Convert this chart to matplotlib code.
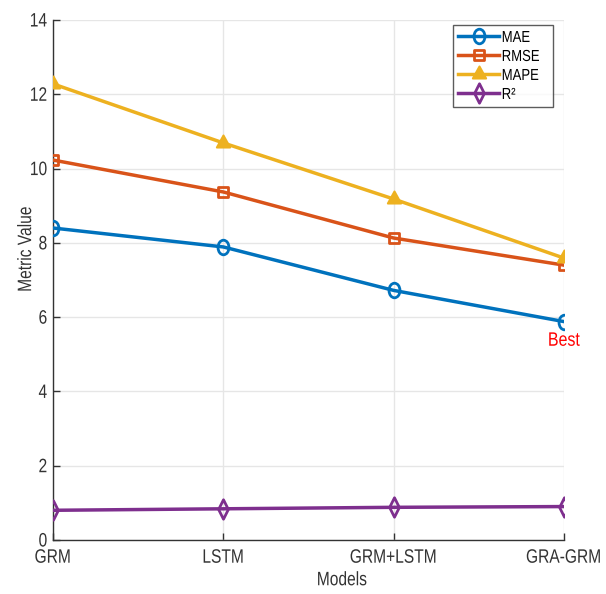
import matplotlib
matplotlib.use("Agg")
import matplotlib.pyplot as plt
from matplotlib.patheffects import AbstractPathEffect
from matplotlib.transforms import Affine2D
from matplotlib.path import Path
import numpy as np

models = ["GRM", "LSTM", "GRM+LSTM", "GRA-GRM"]
mae = [8.40, 7.89, 6.72, 5.88]
rmse = [10.23, 9.37, 8.13, 7.40]
mape = [12.28, 10.69, 9.18, 7.59]
r2 = [0.80, 0.84, 0.88, 0.90]
yticks = [0, 2, 4, 6, 8, 10, 12, 14]

plt.rcParams['font.family'] = ['Liberation Sans', 'DejaVu Sans']


class Squeeze(AbstractPathEffect):
    """Condense glyph outlines horizontally (the reference font is narrow)."""
    def __init__(self, sx=0.82, anchor="center"):
        super().__init__()
        self.sx = sx
        self.anchor = anchor

    def draw_path(self, renderer, gc, tpath, affine, rgbFace=None):
        v = tpath.vertices
        if len(v):
            if self.anchor == "left":
                cx = v[:, 0].min()
            elif self.anchor == "right":
                cx = v[:, 0].max()
            else:
                cx = 0.5 * (v[:, 0].min() + v[:, 0].max())
        else:
            cx = 0
        t = Affine2D().translate(-cx, 0).scale(self.sx, 1).translate(cx, 0)
        renderer.draw_path(gc, tpath, t + affine, rgbFace)


def squeeze_marker(path, sx=0.8):
    return Path(path.vertices * np.array([sx, 1.0]), path.codes)


circ = squeeze_marker(Path.unit_circle(), 0.75)
sq = squeeze_marker(Path.unit_rectangle().transformed(Affine2D().translate(-0.5, -0.5)), 0.9)
tri = squeeze_marker(Path([(0, 1), (-0.87, -0.5), (0.87, -0.5), (0, 1)], closed=True), 0.95)
dia = squeeze_marker(Path([(0, 1), (-0.5, 0), (0, -1), (0.5, 0), (0, 1)], closed=True), 1.0)

fig = plt.figure(figsize=(6.06, 5.94), dpi=100)
ax = fig.add_axes([53/606, 1-540/594, (564-53)/606, 520/594])

x = list(range(len(models)))
lw = 2.5
ax.plot(x, mae, color="#0072BD", lw=lw, marker=circ, ms=10.5, mfc="none", mew=2, label="MAE", zorder=3)
ax.plot(x, rmse, color="#D95319", lw=lw, marker=sq, ms=7.5, mfc="none", mew=2, label="RMSE", zorder=3)
ax.plot(x, mape, color="#EDB120", lw=lw, marker=tri, ms=11.5, mfc="#EDB120", mew=1.5, label="MAPE", zorder=3)
ax.plot(x, r2, color="#7E2F8E", lw=lw, marker=dia, ms=14, mfc="none", mew=2, label="R²", zorder=3)

best = ax.text(x[-1], mae[-1] - 0.3, "Best", color="red", ha="center", va="top", fontsize=14)
best.set_path_effects([Squeeze(0.82, "center")])

ax.set_xlim(0, 3)
ax.set_ylim(0, 14)
ax.set_xticks(x)
ax.set_xticklabels(models, fontsize=14, color="#333333")
ax.set_yticks(yticks)
ax.set_yticklabels([str(v) for v in yticks], fontsize=14, color="#333333")
ax.tick_params(direction="in", length=5, width=1, color="#333333")
ax.tick_params(axis="x", pad=7)
ax.tick_params(axis="y", pad=4)
for lab in ax.get_xticklabels():
    lab.set_path_effects([Squeeze(0.8, "center")])
for lab in ax.get_yticklabels():
    lab.set_path_effects([Squeeze(0.8, "right")])
ax.grid(True, color="#e6e6e6", lw=1)
ax.set_axisbelow(True)
for s in ["top", "right"]:
    ax.spines[s].set_visible(False)
for s in ["left", "bottom"]:
    ax.spines[s].set_color("#333333")
    ax.spines[s].set_linewidth(1)

ax.set_xlabel("Models", fontsize=14, color="#333333", labelpad=0)
ax.xaxis.set_label_coords(0.566, -0.062)
ax.xaxis.label.set_path_effects([Squeeze(0.8, "center")])
ax.set_ylabel("Metric Value", fontsize=14, color="#333333")
ax.yaxis.set_label_coords(-0.035, 0.56)
ax.yaxis.label.set_path_effects([Squeeze(0.8, "center")])

leg = ax.legend(loc="upper right", bbox_to_anchor=(0.978, 0.99), fontsize=11.5,
                frameon=True, fancybox=False, edgecolor="#333333",
                handlelength=2.6, handletextpad=0.15, borderpad=0.3, labelspacing=0.25,
                borderaxespad=0)
leg.get_frame().set_linewidth(1)
for t in leg.get_texts():
    t.set_path_effects([Squeeze(0.82, "left")])

fig.savefig("out.png", dpi=100)
